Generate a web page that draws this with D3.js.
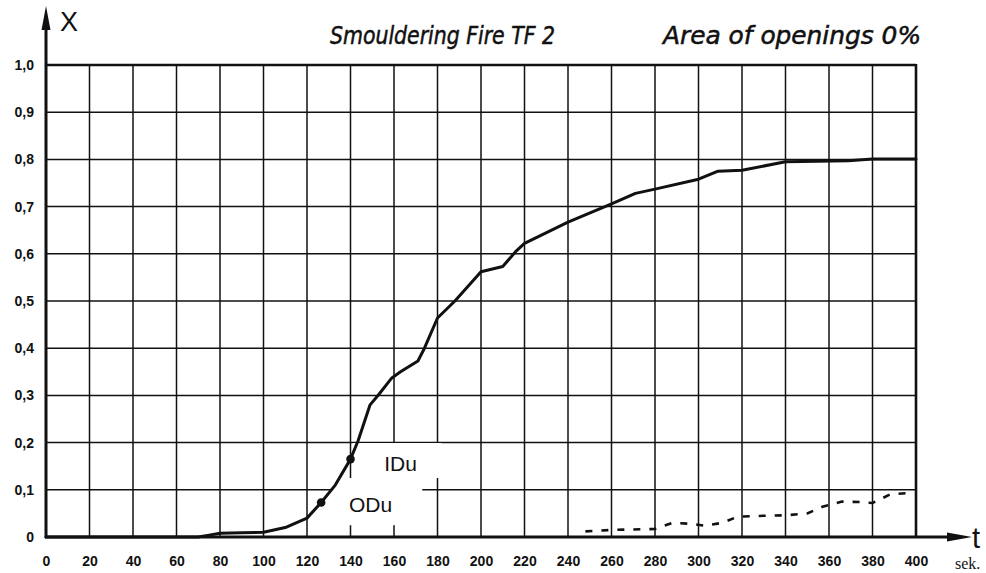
<!DOCTYPE html>
<html>
<head>
<meta charset="utf-8">
<script src="https://cdn.jsdelivr.net/npm/d3@7"></script>
<style>
  html, body { margin: 0; padding: 0; background: #fff; }
  svg { display: block; }
</style>
</head>
<body>
<svg id="chart" width="986" height="573"></svg>
<script>
// ---- data ----
const xTicks = [0, 20, 40, 60, 80, 100, 120, 140, 160, 180, 200, 220, 240, 260, 280, 300, 320, 340, 360, 380, 400];
const xTickLabels = ["0","20","40","60","80","100","120","140","160","180","200","220","240","260","280","300","320","340","360","380","400"];
const yTicks = [0, 0.1, 0.2, 0.3, 0.4, 0.5, 0.6, 0.7, 0.8, 0.9, 1.0];
const yTickLabels = ["0","0,1","0,2","0,3","0,4","0,5","0,6","0,7","0,8","0,9","1,0"];

// solid curve (time in s, X)
const solidT = [0, 70, 75, 80, 90, 100, 110, 120, 126.5, 133, 140, 143.5, 149, 153, 159, 163, 171, 174, 180, 188, 200, 210, 216, 220, 240, 260, 271, 280, 300, 309, 320, 340, 369, 380, 400];
const solidX = [0, 0, 0.004, 0.008, 0.009, 0.01, 0.02, 0.04, 0.073, 0.11, 0.165, 0.204, 0.28, 0.302, 0.337, 0.35, 0.373, 0.4, 0.464, 0.5, 0.562, 0.573, 0.605, 0.622, 0.667, 0.706, 0.728, 0.737, 0.758, 0.775, 0.777, 0.795, 0.797, 0.801, 0.801];

// dashed curve
const dashT = [248, 260, 270, 280, 288, 296, 303, 311, 318, 330, 340, 350, 357, 366, 374, 380, 388, 396];
const dashX = [0.012, 0.015, 0.016, 0.017, 0.03, 0.028, 0.024, 0.03, 0.043, 0.045, 0.046, 0.05, 0.064, 0.075, 0.074, 0.072, 0.09, 0.093];

// marked points
const markNames = ["ODu", "IDu"];
const markT = [126.5, 140];
const markX = [0.073, 0.165];

const titleLeft = "Smouldering Fire TF 2";
const titleRight = "Area of openings 0%";

// ---- layout ----
const svg = d3.select("#chart");
const x = d3.scaleLinear().domain([0, 400]).range([46, 916]);
const y = d3.scaleLinear().domain([0, 1]).range([537, 65]);
const ink = "#111";

// grid
const grid = svg.append("g");
grid.selectAll("line.v").data(xTicks.filter(d => d > 0 && d < 400)).join("line")
  .attr("x1", d => x(d)).attr("x2", d => x(d))
  .attr("y1", y(0)).attr("y2", y(1))
  .attr("stroke", ink).attr("stroke-width", 1.5);
grid.selectAll("line.h").data(yTicks.filter(d => d > 0 && d < 1)).join("line")
  .attr("x1", x(0)).attr("x2", x(400))
  .attr("y1", d => y(d)).attr("y2", d => y(d))
  .attr("stroke", ink).attr("stroke-width", 1.5);

// white box behind labels (breaks grid as in original)
svg.append("rect")
  .attr("x", x(141)).attr("y", y(0.199))
  .attr("width", x(182) - x(141)).attr("height", y(0.125) - y(0.199))
  .attr("fill", "#fff");
svg.append("rect")
  .attr("x", x(131)).attr("y", y(0.125))
  .attr("width", x(173) - x(131)).attr("height", y(0.025) - y(0.125))
  .attr("fill", "#fff");

// frame: top and right
svg.append("line").attr("x1", x(0)).attr("x2", x(400)).attr("y1", y(1)).attr("y2", y(1))
  .attr("stroke", ink).attr("stroke-width", 2.6);
svg.append("line").attr("x1", x(400)).attr("x2", x(400)).attr("y1", y(1) - 1).attr("y2", y(0))
  .attr("stroke", ink).attr("stroke-width", 2.6);

// y axis with arrow
svg.append("line").attr("x1", x(0)).attr("x2", x(0)).attr("y1", y(0) + 1).attr("y2", 22)
  .attr("stroke", ink).attr("stroke-width", 3);
svg.append("path")
  .attr("d", `M${x(0)},6 L${x(0) - 4.5},30 L${x(0) + 4.5},30 Z`)
  .attr("fill", ink);

// x axis with arrow
svg.append("line").attr("x1", x(0) - 1).attr("x2", 955).attr("y1", y(0)).attr("y2", y(0))
  .attr("stroke", ink).attr("stroke-width", 3);
svg.append("path")
  .attr("d", `M972,${y(0)} L947,${y(0) - 4.5} L947,${y(0) + 4.5} Z`)
  .attr("fill", ink);

// tick labels via axes
const lblFont = "Liberation Sans, Arial, sans-serif";
const yAxis = d3.axisLeft(y).tickValues(yTicks).tickFormat((d, i) => yTickLabels[i]).tickSize(0).tickPadding(12);
const gy = svg.append("g").attr("transform", `translate(${x(0)},0)`).call(yAxis);
gy.select(".domain").remove();
gy.selectAll("text").attr("font-family", lblFont)
  .attr("font-size", 14).attr("font-weight", 600).attr("fill", ink);

const xAxis = d3.axisBottom(x).tickValues(xTicks).tickFormat((d, i) => xTickLabels[i]).tickSize(0).tickPadding(19);
const gx = svg.append("g").attr("transform", `translate(0,${y(0)})`).call(xAxis);
gx.select(".domain").remove();
gx.selectAll("text").attr("font-family", lblFont)
  .attr("font-size", 14).attr("font-weight", 600).attr("fill", ink);

// curves
const line = d3.line().x(d => x(d[0])).y(d => y(d[1])).curve(d3.curveLinear);
svg.append("path")
  .attr("d", line(solidT.map((t, i) => [t, solidX[i]])))
  .attr("fill", "none").attr("stroke", ink).attr("stroke-width", 3)
  .attr("stroke-linejoin", "round").attr("stroke-linecap", "round");
svg.append("path")
  .attr("d", line(dashT.map((t, i) => [t, dashX[i]])))
  .attr("fill", "none").attr("stroke", ink).attr("stroke-width", 2.6)
  .attr("stroke-dasharray", "7,9");

// markers
svg.selectAll("circle.mk").data(markT).join("circle")
  .attr("cx", d => x(d)).attr("cy", (d, i) => y(markX[i])).attr("r", 4.3).attr("fill", ink);

// marker labels
svg.append("text").attr("x", x(139.3)).attr("y", y(0.054)).attr("font-family", lblFont)
  .attr("font-size", 21).attr("fill", ink).text(markNames[0]);
svg.append("text").attr("x", x(155.5)).attr("y", y(0.139)).attr("font-family", lblFont)
  .attr("font-size", 21).attr("fill", ink).text(markNames[1]);

// axis titles
svg.append("text").attr("x", 60).attr("y", 31).attr("font-family", lblFont)
  .attr("font-size", 27).attr("fill", ink).text("X");
svg.append("text").attr("x", 972).attr("y", 548).attr("font-family", lblFont)
  .attr("font-size", 29).attr("fill", ink).text("t");
svg.append("text").attr("x", 955).attr("y", 569).attr("font-family", "Liberation Serif, Times New Roman, serif")
  .attr("font-size", 16).attr("fill", ink).text("sek.");

// chart titles
const tFont = "DejaVu Sans Condensed, DejaVu Sans, sans-serif";
svg.append("text").attr("x", 330).attr("y", 44).attr("font-family", tFont)
  .attr("font-size", 25).attr("font-style", "italic").attr("fill", ink)
  .attr("stroke", ink).attr("stroke-width", 0.5)
  .attr("textLength", 225).attr("lengthAdjust", "spacingAndGlyphs").text(titleLeft);
svg.append("text").attr("x", 663).attr("y", 44).attr("font-family", tFont)
  .attr("font-size", 25).attr("font-style", "italic").attr("fill", ink)
  .attr("stroke", ink).attr("stroke-width", 0.5)
  .attr("textLength", 258).attr("lengthAdjust", "spacingAndGlyphs").text(titleRight);
</script>
</body>
</html>
